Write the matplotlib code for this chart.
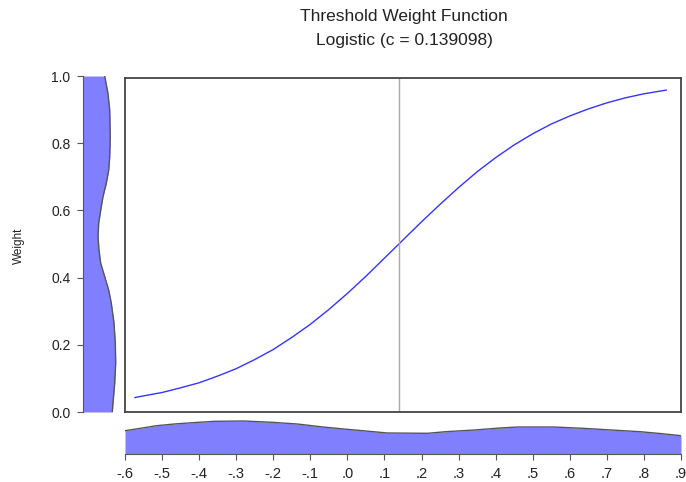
import matplotlib
matplotlib.use("Agg")
import matplotlib.pyplot as plt
import numpy as np

plt.rcParams["font.family"] = ["Liberation Sans", "DejaVu Sans"]

# threshold variable vs. logistic weight
thresh_x = [-0.573, -0.55, -0.5, -0.45, -0.4, -0.35, -0.3, -0.25, -0.2,
            -0.15, -0.1, -0.05, 0.0, 0.05, 0.1, 0.139, 0.15, 0.2, 0.25,
            0.3, 0.35, 0.4, 0.45, 0.5, 0.55, 0.6, 0.65, 0.7, 0.75, 0.8,
            0.86]
weight_y = [0.043, 0.048, 0.058, 0.072, 0.087, 0.107, 0.129, 0.156, 0.186,
            0.222, 0.261, 0.305, 0.353, 0.404, 0.458, 0.500, 0.512, 0.566,
            0.618, 0.668, 0.715, 0.757, 0.795, 0.828, 0.857, 0.881, 0.902,
            0.920, 0.935, 0.947, 0.958]
c_value = 0.139098

# density of the weights (left margin)
wdens_y = [0.0, 0.027, 0.086, 0.146, 0.205, 0.265, 0.324, 0.363, 0.403,
           0.443, 0.482, 0.522, 0.562, 0.601, 0.641, 0.681, 0.720, 0.760,
           0.819, 0.899, 0.948, 1.0]
wdens_v = [29.3, 30.0, 31.7, 32.7, 32.3, 31.0, 28.3, 25.7, 21.7, 17.7,
           16.0, 15.0, 15.7, 17.7, 20.0, 23.3, 25.7, 26.7, 27.3, 26.7,
           25.0, 21.7]

# density of the threshold variable (bottom margin)
xdens_x = [-0.6, -0.553, -0.515, -0.467, -0.418, -0.359, -0.280, -0.203,
           -0.135, -0.066, 0.011, 0.070, 0.108, 0.216, 0.265, 0.343, 0.411,
           0.460, 0.557, 0.635, 0.712, 0.790, 0.849, 0.9]
xdens_v = [23.3, 26.0, 28.3, 30.0, 31.3, 32.7, 33.0, 31.7, 30.0, 27.0,
           24.3, 22.3, 21.0, 20.7, 22.3, 24.0, 26.0, 27.0, 27.0, 25.7,
           24.0, 22.3, 20.3, 18.3]

x_ticks = [round(t, 1) + 0.0 for t in np.arange(-0.6, 0.91, 0.1)]
x_labels = [("%.1f" % t).replace("0.", ".") for t in x_ticks]
y_ticks = [0.0, 0.2, 0.4, 0.6, 0.8, 1.0]

fill_col = "#8080ff"
edge_col = "#555555"
txt_col = "#222222"

W, H = 686, 482
fig = plt.figure(figsize=(W / 100, H / 100), dpi=100)


def box(l, t, r, b):
    return [l / W, 1 - b / H, (r - l) / W, (b - t) / H]


# main panel
ax = fig.add_axes(box(125, 78, 681, 412))
ax.plot(thresh_x, weight_y, color="#3535ff", lw=1.0)
ax.axvline(c_value, color="#a8a8a8", lw=1.0)
ax.set_xlim(-0.6, 0.9)
ax.set_ylim(0, 0.994)
ax.set_xticks([])
ax.set_yticks([])
for s in ax.spines.values():
    s.set_color("#444444")
    s.set_linewidth(1.3)

# left marginal density
axl = fig.add_axes(box(83, 76, 122, 412))
axl.fill_betweenx(wdens_y, 0, wdens_v, color=fill_col, lw=0)
axl.plot(wdens_v, wdens_y, color=edge_col, lw=1.0)
axl.set_xlim(0, 39)
axl.set_ylim(0, 1.0)
axl.set_xticks([])
axl.set_yticks(y_ticks)
axl.set_yticklabels(["%.1f" % v for v in y_ticks])
for k in ("top", "right", "bottom"):
    axl.spines[k].set_visible(False)
axl.spines["left"].set_color("#555555")
axl.tick_params(axis="y", length=4, color="#555555", labelsize=10,
                labelcolor=txt_col, pad=5)

# bottom marginal density
axb = fig.add_axes(box(125, 416, 681, 454))
axb.fill_between(xdens_x, 0, xdens_v, color=fill_col, lw=0)
axb.plot(xdens_x, xdens_v, color=edge_col, lw=1.0)
axb.set_xlim(-0.6, 0.9)
axb.set_ylim(0, 38)
axb.set_yticks([])
axb.set_xticks(x_ticks)
axb.set_xticklabels(x_labels)
for k in ("top", "right", "left"):
    axb.spines[k].set_visible(False)
axb.spines["bottom"].set_color("#555555")
axb.tick_params(axis="x", length=4, color="#555555", labelsize=10.5,
                labelcolor=txt_col, pad=5)

fig.text(19 / W, 1 - 246 / H, "Weight", rotation=90, ha="center",
         va="center", fontsize=8.5, color=txt_col)
fig.text(404 / W, 1 - 17 / H, "Threshold Weight Function", ha="center",
         va="center", fontsize=12.5, color=txt_col)
fig.text(404 / W, 1 - 40 / H, "Logistic (c = 0.139098)", ha="center",
         va="center", fontsize=12.5, color=txt_col)

fig.savefig("out.png", dpi=100)
